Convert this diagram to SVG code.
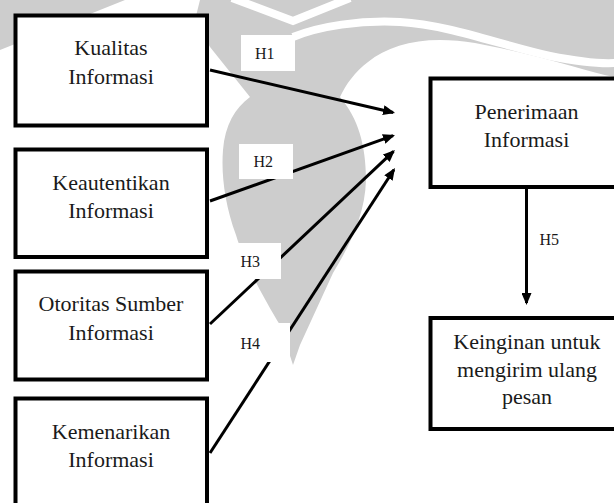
<svg xmlns="http://www.w3.org/2000/svg" width="614" height="503" viewBox="0 0 614 503">
  <style>
    .box { fill: #ffffff; stroke: #000000; stroke-width: 4; }
    .txt { font-family: 'Liberation Serif', 'Times New Roman', Times, 'DejaVu Serif', serif; font-size: 22px; fill: #1a1a1a; text-anchor: middle; }
    .lbl { font-family: 'Liberation Serif', 'Times New Roman', Times, 'DejaVu Serif', serif; font-size: 16px; fill: #1a1a1a; }
    .lblbg { fill: #ffffff; stroke: none; }
    .conn { stroke: #000000; stroke-width: 3; fill: none; marker-end: url(#arrow); }
    .wm { fill: #cdcdcd; stroke: none; }
    .wmline { fill: none; stroke: #ffffff; }
  </style>
  <defs>
    <marker id="arrow" markerUnits="userSpaceOnUse" markerWidth="12" markerHeight="10" refX="10" refY="5" orient="auto">
      <path d="M0,0 L12,5 L0,10 Z" fill="#000000"/>
    </marker>
  </defs>

  <rect width="614" height="503" fill="#ffffff"/>

  <g id="watermark">
    <path class="wm" d="M0,0 L125,0 L0,50 Z"/>
    <path class="wm" d="M200,0 L614,0 L614,77 C590,72 560,62 530,55 C500,48 470,40 440,40 C410,40 385,48 368,62 C355,72 346,84 340,97 C358,118 366,145 366,180 C365,215 350,245 333,273 L300,345 L293,365 L280,325 C265,300 245,265 236,235 C225,205 221,175 223,150 C225,125 235,108 250,97 L210,47 L195,20 Z"/>
    <polyline class="wmline" stroke-width="8" points="232,-2 293,21 350,-2"/>
    <path class="wmline" stroke-width="8" d="M293,37 C320,26 360,20 400,22 C450,25 500,45 550,56 C580,62 600,64 616,63"/>
  </g>

  <g id="connectors">
    <line class="conn" x1="210" y1="70" x2="393.1" y2="112.5"/>
    <line class="conn" x1="210" y1="201" x2="393.1" y2="135.7"/>
    <line class="conn" x1="210" y1="324" x2="393.5" y2="151.4"/>
    <line class="conn" x1="210" y1="453" x2="393.9" y2="169.7"/>
    <line class="conn" x1="526.5" y1="189" x2="526.5" y2="303"/>
  </g>

  <g id="label-H1">
    <rect class="lblbg" x="241" y="35" width="54" height="36"/>
    <text class="lbl" x="255" y="58.5">H1</text>
  </g>
  <g id="label-H2">
    <rect class="lblbg" x="239" y="144" width="54" height="35"/>
    <text class="lbl" x="253.5" y="167">H2</text>
  </g>
  <g id="label-H3">
    <rect class="lblbg" x="227" y="243" width="54" height="36"/>
    <text class="lbl" x="240.5" y="267">H3</text>
  </g>
  <g id="label-H4">
    <rect class="lblbg" x="227" y="323" width="63" height="39"/>
    <text class="lbl" x="240.5" y="348.5">H4</text>
  </g>
  <g id="label-H5">
    <text class="lbl" x="539.5" y="245">H5</text>
  </g>

  <g id="node-kualitas">
    <rect class="box" x="15.5" y="15.5" width="191.5" height="110"/>
    <text class="txt" x="111" y="55">Kualitas</text>
    <text class="txt" x="111" y="83.5">Informasi</text>
  </g>
  <g id="node-keautentikan">
    <rect class="box" x="15.5" y="149.5" width="191.5" height="107.5"/>
    <text class="txt" x="111" y="189.5">Keautentikan</text>
    <text class="txt" x="111" y="217.5">Informasi</text>
  </g>
  <g id="node-otoritas">
    <rect class="box" x="15.5" y="271.5" width="191.5" height="108"/>
    <text class="txt" x="111" y="311">Otoritas Sumber</text>
    <text class="txt" x="111" y="339.5">Informasi</text>
  </g>
  <g id="node-kemenarikan">
    <rect class="box" x="15.5" y="398.5" width="191.5" height="130"/>
    <text class="txt" x="111" y="438.5">Kemenarikan</text>
    <text class="txt" x="111" y="467">Informasi</text>
  </g>
  <g id="node-penerimaan">
    <rect class="box" x="430.5" y="78.5" width="192" height="108.5"/>
    <text class="txt" x="526.5" y="118.5">Penerimaan</text>
    <text class="txt" x="526.5" y="147">Informasi</text>
  </g>
  <g id="node-keinginan">
    <rect class="box" x="430.5" y="318" width="192" height="111"/>
    <text class="txt" x="527" y="348.5">Keinginan untuk</text>
    <text class="txt" x="527" y="376.5">mengirim ulang</text>
    <text class="txt" x="527" y="404">pesan</text>
  </g>
</svg>
